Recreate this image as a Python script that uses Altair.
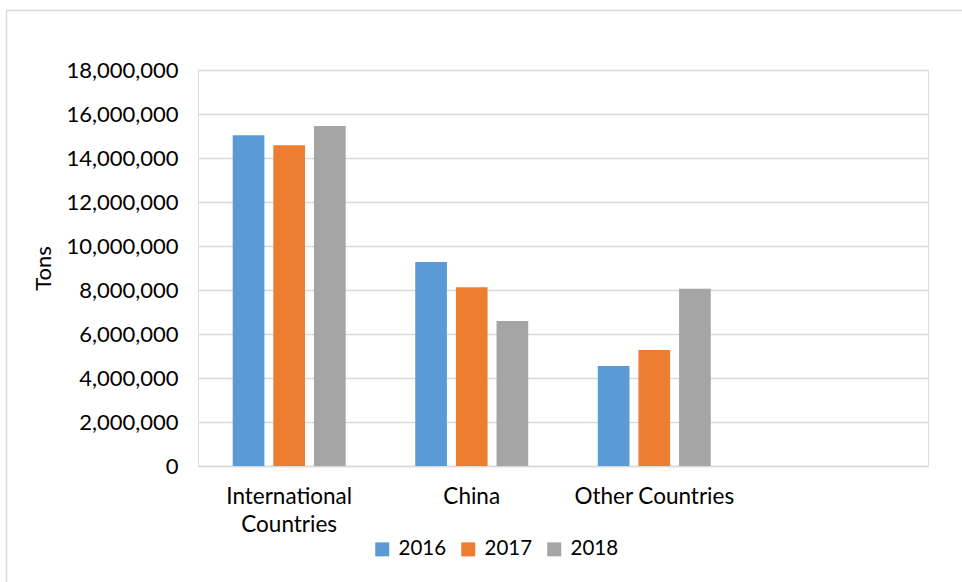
import altair as alt
import pandas as pd

categories = ["International Countries", "China", "Other Countries"]
years = ["2016", "2017", "2018"]
values_2016 = [15030000, 9270000, 4550000]
values_2017 = [14580000, 8120000, 5270000]
values_2018 = [15460000, 6590000, 8060000]
colors = ["#5B9BD5", "#ED7D31", "#A5A5A5"]
y_ticks = [0, 2000000, 4000000, 6000000, 8000000, 10000000, 12000000, 14000000, 16000000, 18000000]

rows = []
for yr, vals in zip(years, [values_2016, values_2017, values_2018]):
    for c, v in zip(categories, vals):
        rows.append({"cat": c, "year": yr, "tons": v})
df = pd.DataFrame(rows)

FONT = "Lato"
GRID = "#d9d9d9"

bars = alt.Chart(df).mark_bar().encode(
    x=alt.X(
        "cat:N",
        scale=alt.Scale(domain=categories + [" "], paddingInner=0.381, paddingOuter=0.19),
        axis=alt.Axis(
            title=None, labelAngle=0, ticks=False, domainColor=GRID, domainWidth=1.5,
            labelFont=FONT, labelFontSize=22.5, labelColor="#000000", labelPadding=19,
            labelLineHeight=28,
            labelExpr="datum.value == 'International Countries' ? ['International', 'Countries'] : datum.value",
        ),
    ),
    xOffset=alt.XOffset("year:N", scale=alt.Scale(domain=years, paddingInner=0.22, paddingOuter=0)),
    y=alt.Y(
        "tons:Q",
        scale=alt.Scale(domain=[0, 18000000], nice=False),
        axis=alt.Axis(
            title="Tons", values=y_ticks, format=",.0f", ticks=False, domain=False,
            gridColor=GRID, gridWidth=1.5,
            labelFont=FONT, labelFontSize=22, labelColor="#000000", labelPadding=20,
            titleFont=FONT, titleFontSize=22, titleFontWeight="normal", titleColor="#000000",
            titlePadding=10,
        ),
    ),
    color=alt.Color(
        "year:N",
        scale=alt.Scale(domain=years, range=colors),
        legend=alt.Legend(
            title=None, orient="none", direction="horizontal", legendX=174, legendY=469,
            symbolType="square", symbolSize=196, symbolStrokeWidth=0, symbolOpacity=1,
            labelFont=FONT, labelFontSize=20.5, labelColor="#000000", labelOffset=6,
            columnPadding=11,
        ),
    ),
)

border = alt.Chart(pd.DataFrame({"a": [0]})).mark_rect(
    fill=None, stroke=GRID, strokeWidth=1.5
).encode(
    x=alt.value(-191.5), x2=alt.value(900), y=alt.value(-59.5), y2=alt.value(600)
)

chart = alt.layer(border, bars).properties(
    width=730, height=396,
    autosize=alt.AutoSizeParams(type="none"),
    padding={"left": 198, "top": 70, "right": 34, "bottom": 116},
).configure_view(stroke=None).configure(background="white")

chart.save("out.html", embed_options={"renderer": "svg", "actions": False})
